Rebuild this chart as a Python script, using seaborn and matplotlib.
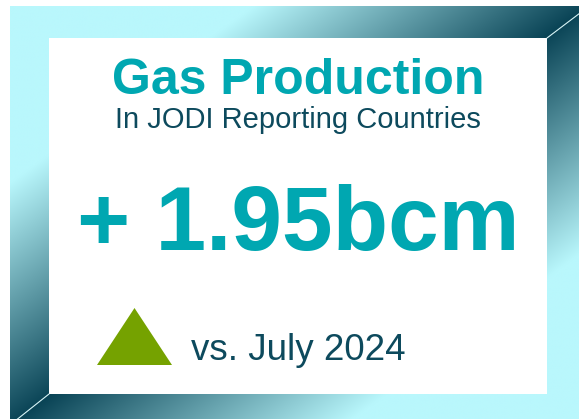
import numpy as np
import pandas as pd
import matplotlib
matplotlib.use("Agg")
import matplotlib.pyplot as plt
from matplotlib.patches import Rectangle
from matplotlib.path import Path
import seaborn as sns

# KPI card contents
title = ["Gas Production"]
subtitle = ["In JODI Reporting Countries"]
change_values = [1.95]
change_units = ["bcm"]
comparison_periods = ["July 2024"]
directions = ["up"]

sns.set_style("white")
plt.rcParams['font.family'] = ['Liberation Sans', 'DejaVu Sans']

teal = "#00a7b1"
navy = "#0d4a5d"
green = "#75a200"
light = np.array([185, 247, 252]) / 255
dark = np.array([10, 68, 86]) / 255

fig = plt.figure(figsize=(5.79, 4.19), dpi=100)
ax = fig.add_axes([0, 0, 1, 1])

# gradient frame: diagonal gradient light -> dark -> light from top-left to bottom-right
x0, x1, y0, y1 = 10, 588, 7, 425
u, v = np.meshgrid(np.linspace(0, 1, 600), np.linspace(0, 1, 440))
s = (u + v) / 2
t = np.clip(1 - np.abs(s - 0.5) / 0.29, 0, 1)[..., None]
grad = light * (1 - t) + dark * t
ax.imshow(grad, extent=(x0, x1, y1, y0), aspect="auto", interpolation="bilinear", zorder=0)

# inner white card
ix0, ix1, iy0, iy1 = 49, 547, 38, 394
ax.add_patch(Rectangle((ix0, iy0), ix1 - ix0, iy1 - iy0, facecolor="white", edgecolor="none", zorder=1))

# bevel corner lines
ax.plot([ix1, x1], [iy0, y0], color="#d8f4f6", lw=0.8, zorder=2)
ax.plot([ix0, x0], [iy1, y1], color="#d8f4f6", lw=0.8, zorder=2)

cx = (ix0 + ix1) / 2
ax.text(cx, 94, title[0], color=teal, fontsize=36, fontweight="bold", ha="center", va="baseline", zorder=3)
ax.text(cx, 128, subtitle[0], color=navy, fontsize=21, ha="center", va="baseline", zorder=3)

sign = "+" if directions[0] == "up" else "-"
ax.text(cx, 250, f"{sign} {change_values[0]:.2f}{change_units[0]}", color=teal,
        fontsize=65.5, fontweight="bold", ha="center", va="baseline", zorder=3)

# direction indicator
tri = Path([(-1, -0.76), (1, -0.76), (0, 0.76), (-1, -0.76)],
           [Path.MOVETO, Path.LINETO, Path.LINETO, Path.CLOSEPOLY])
ind = pd.DataFrame({"x": [133.5], "y": [335.5], "dir": directions})
sns.scatterplot(data=ind, x="x", y="y", marker=tri, s=54 ** 2, color=green,
                linewidth=0, ax=ax, zorder=3, legend=False)

ax.text(191, 360, f"vs. {comparison_periods[0]}", color=navy, fontsize=26.5, ha="left", va="baseline", zorder=3)

ax.set_xlim(0, 579)
ax.set_ylim(419, 0)
ax.axis("off")

fig.savefig("out.png", dpi=100, facecolor="white")
